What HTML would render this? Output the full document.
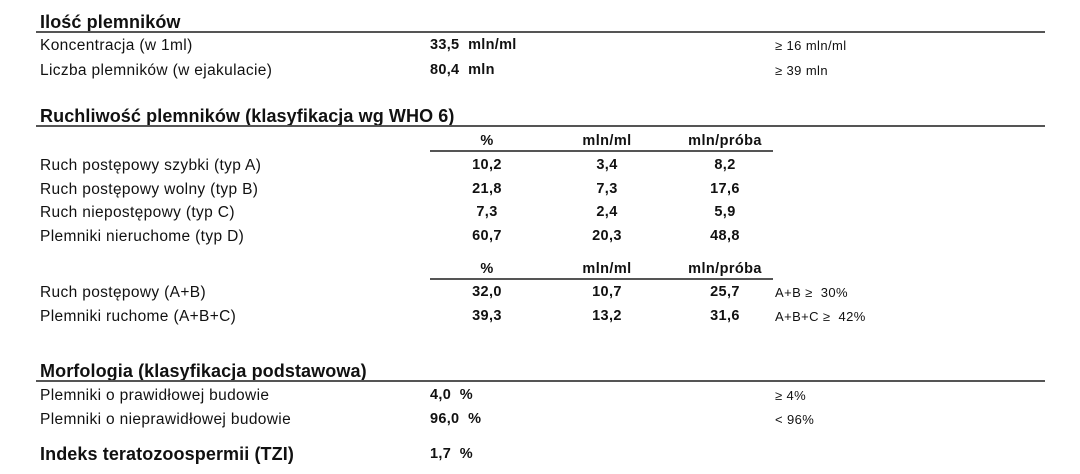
<!DOCTYPE html>
<html><head><meta charset="utf-8"><style>
body{margin:0;width:1080px;height:474px;background:#fff;font-family:"Liberation Sans",Arial,sans-serif;color:#111;position:relative;overflow:hidden}
div{position:absolute;white-space:nowrap}
.h{left:40px;font-size:18px;font-weight:bold;letter-spacing:0.1px}
.l{left:40px;font-size:15.5px;letter-spacing:0.35px}
.v{left:430px;font-size:14.5px;font-weight:bold;letter-spacing:0.3px}
.r{left:775px;font-size:13px;letter-spacing:0.4px}
.c{font-size:14.5px;font-weight:bold;text-align:center;width:100px;letter-spacing:0.4px}
.line{height:1.5px;background:#555}
</style></head><body>
<div class="h" style="top:12px">Ilość plemników</div>
<div class="line" style="left:36px;top:31px;width:1009px"></div>
<div class="l" style="top:37px">Koncentracja (w 1ml)</div>
<div class="v" style="top:37px">33,5&nbsp; mln/ml</div>
<div class="r" style="top:38px">≥ 16 mln/ml</div>
<div class="l" style="top:62px">Liczba plemników (w ejakulacie)</div>
<div class="v" style="top:62px">80,4&nbsp; mln</div>
<div class="r" style="top:63px">≥ 39 mln</div>

<div class="h" style="top:106px">Ruchliwość plemników (klasyfikacja wg WHO 6)</div>
<div class="line" style="left:36px;top:125px;width:1009px"></div>
<div class="c" style="left:437px;top:133px">%</div>
<div class="c" style="left:557px;top:133px">mln/ml</div>
<div class="c" style="left:675px;top:133px">mln/próba</div>
<div class="line" style="left:430px;top:150px;width:343px"></div>
<div class="l" style="top:157px">Ruch postępowy szybki (typ A)</div>
<div class="c" style="left:437px;top:157px">10,2</div><div class="c" style="left:557px;top:157px">3,4</div><div class="c" style="left:675px;top:157px">8,2</div>
<div class="l" style="top:181px">Ruch postępowy wolny (typ B)</div>
<div class="c" style="left:437px;top:181px">21,8</div><div class="c" style="left:557px;top:181px">7,3</div><div class="c" style="left:675px;top:181px">17,6</div>
<div class="l" style="top:204px">Ruch niepostępowy (typ C)</div>
<div class="c" style="left:437px;top:204px">7,3</div><div class="c" style="left:557px;top:204px">2,4</div><div class="c" style="left:675px;top:204px">5,9</div>
<div class="l" style="top:228px">Plemniki nieruchome (typ D)</div>
<div class="c" style="left:437px;top:228px">60,7</div><div class="c" style="left:557px;top:228px">20,3</div><div class="c" style="left:675px;top:228px">48,8</div>

<div class="c" style="left:437px;top:261px">%</div>
<div class="c" style="left:557px;top:261px">mln/ml</div>
<div class="c" style="left:675px;top:261px">mln/próba</div>
<div class="line" style="left:430px;top:278px;width:343px"></div>
<div class="l" style="top:284px">Ruch postępowy (A+B)</div>
<div class="c" style="left:437px;top:284px">32,0</div><div class="c" style="left:557px;top:284px">10,7</div><div class="c" style="left:675px;top:284px">25,7</div>
<div class="r" style="left:775px;top:285px">A+B ≥&nbsp; 30%</div>
<div class="l" style="top:308px">Plemniki ruchome (A+B+C)</div>
<div class="c" style="left:437px;top:308px">39,3</div><div class="c" style="left:557px;top:308px">13,2</div><div class="c" style="left:675px;top:308px">31,6</div>
<div class="r" style="left:775px;top:309px">A+B+C ≥&nbsp; 42%</div>

<div class="h" style="top:361px">Morfologia (klasyfikacja podstawowa)</div>
<div class="line" style="left:36px;top:380px;width:1009px"></div>
<div class="l" style="top:387px">Plemniki o prawidłowej budowie</div>
<div class="v" style="top:387px">4,0&nbsp; %</div>
<div class="r" style="top:388px">≥ 4%</div>
<div class="l" style="top:411px">Plemniki o nieprawidłowej budowie</div>
<div class="v" style="top:411px">96,0&nbsp; %</div>
<div class="r" style="top:412px">&lt; 96%</div>
<div class="h" style="top:444px">Indeks teratozoospermii (TZI)</div>
<div class="v" style="top:446px">1,7&nbsp; %</div>
</body></html>
